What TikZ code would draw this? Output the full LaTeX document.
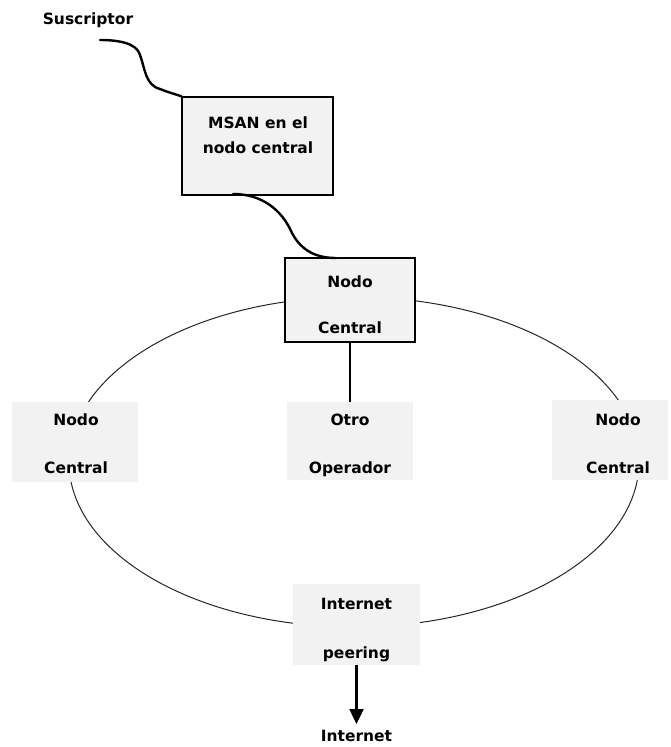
\documentclass[tikz,border=0pt]{standalone}
\usepackage{fontspec}
\usetikzlibrary{arrows.meta}
\newfontfamily\dvs{DejaVu Sans}
\newcommand\lblfontA{\dvs\bfseries\fontsize{15.5}{46}\selectfont}
\newcommand\lblfontB{\dvs\bfseries\fontsize{15.5}{48}\selectfont}
\newcommand\lblfontC{\dvs\bfseries\fontsize{15.5}{49}\selectfont}
\newcommand\lblfontM{\dvs\bfseries\fontsize{15.5}{25}\selectfont}
\begin{document}
\begin{tikzpicture}[x=1pt,y=-1pt,
  framed/.style={draw=black, line width=1.4pt, fill=black!5, inner sep=0pt},
  plainbox/.style={fill=black!5, inner sep=0pt},
  lbl/.style={align=center, inner sep=0pt, text=black},
  wavy/.style={line width=2.4pt, line cap=round},
  ring/.style={line width=1pt, draw=black!85},
  stem/.style={line width=2.2pt},
  outarrow/.style={line width=2.2pt, -{Triangle[length=15pt,width=14pt]}}
]
\useasboundingbox (0,0) rectangle (670,747);

% ring
\draw[ring] (354,462) ellipse [x radius=285pt, y radius=165pt];

% boxes
\node[framed, minimum width=151pt, minimum height=98pt] (msan) at (257.5,146) {};
\node[framed, minimum width=130pt, minimum height=84pt] (topnc) at (350,300) {};
\node[plainbox, minimum width=126pt, minimum height=80pt] (leftnc) at (75,442) {};
\node[plainbox, minimum width=126pt, minimum height=78pt] (otro) at (350,441) {};
\node[plainbox, minimum width=116pt, minimum height=80pt] (rightnc) at (610,440) {};
\node[plainbox, minimum width=127pt, minimum height=81pt] (inet) at (356.5,624.5) {};

% labels
\node[lbl, font=\lblfontA] (sus) at (88,20) {Suscriptor};
\node[lbl, font=\lblfontM] (msant) at (258,135) {MSAN en el\\nodo central};
\node[lbl, font=\lblfontA] (topnct) at (350,305) {Nodo\\Central};
\node[lbl, font=\lblfontB] (leftnct) at (76,444) {Nodo\\Central};
\node[lbl, font=\lblfontB] (otrot) at (350,445) {Otro\\Operador};
\node[lbl, font=\lblfontB] (rightnct) at (618,444) {Nodo\\Central};
\node[lbl, font=\lblfontC] (inett) at (356.5,630) {Internet\\peering};
\node[lbl, font=\lblfontA] (inetout) at (356.5,736) {Internet};

% connectors
\coordinate (s0) at (100,40);
\coordinate (m0) at (233,194);
\coordinate (t0) at (336,258);
\coordinate (a0) at (140,55);
\coordinate (b0) at (292,233);
\draw[wavy] (s0) .. controls (130,40) and (138,48) .. (a0)
  .. controls (145,68) and (145,85) .. (160,89)
  .. controls (170,93) and (178,95) .. (msan.north west);
\draw[wavy] (m0) .. controls (262,194) and (282,210) .. (b0)
  .. controls (302,252) and (318,258) .. (t0);
\draw[stem] (topnc.south) -- (otro.north);
\draw[outarrow, shorten >=6pt] (inet.south) -- (inetout.north);
\end{tikzpicture}
\end{document}
